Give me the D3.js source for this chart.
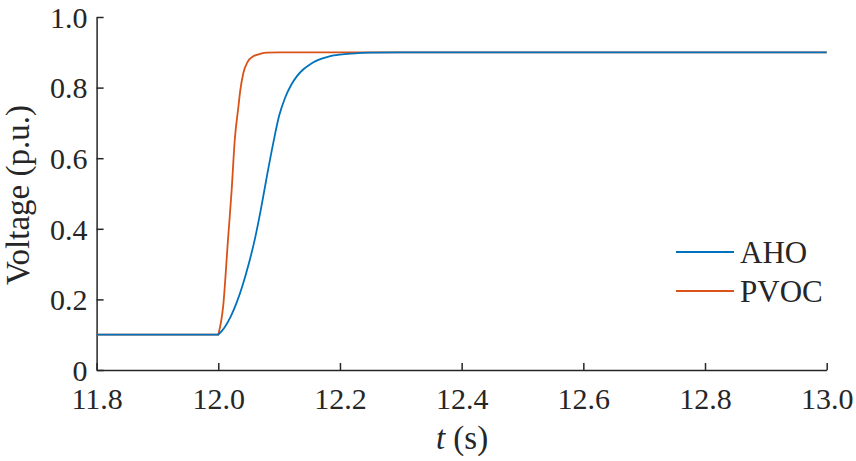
<!DOCTYPE html>
<html>
<head>
<meta charset="utf-8">
<script src="https://cdn.jsdelivr.net/npm/d3@7"></script>
<style>
  html, body { margin: 0; padding: 0; background: #fff; }
  svg { display: block; }
  text { font-family: "Liberation Serif", "Times New Roman", Times, serif; fill: #262626; }
</style>
</head>
<body>
<svg id="chart" width="856" height="461"></svg>
<script>
// ---- data ----
const xTicks = [11.8, 12.0, 12.2, 12.4, 12.6, 12.8, 13.0];
const xTickLabels = ["11.8", "12.0", "12.2", "12.4", "12.6", "12.8", "13.0"];
const yTicks = [0, 0.2, 0.4, 0.6, 0.8, 1.0];
const yTickLabels = ["0", "0.2", "0.4", "0.6", "0.8", "1.0"];
const seriesNames = ["AHO", "PVOC"];

const ahoT = [11.8, 12.0, 12.01, 12.02, 12.03, 12.04, 12.05, 12.06, 12.07, 12.08, 12.09, 12.10, 12.11, 12.12, 12.13, 12.14, 12.15, 12.16, 12.17, 12.18, 12.19, 12.2, 12.22, 12.25, 12.3, 13.0];
const ahoV = [0.1, 0.1, 0.12, 0.15, 0.19, 0.24, 0.30, 0.37, 0.455, 0.55, 0.64, 0.72, 0.772, 0.808, 0.834, 0.852, 0.865, 0.875, 0.882, 0.887, 0.891, 0.8935, 0.8965, 0.899, 0.9, 0.9];

const pvocT = [11.8, 12.0, 12.008, 12.016, 12.022, 12.027, 12.033, 12.036, 12.041, 12.048, 12.057, 12.07, 12.08, 12.1, 12.2, 13.0];
const pvocV = [0.1, 0.1, 0.18, 0.37, 0.51, 0.65, 0.745, 0.79, 0.84, 0.872, 0.888, 0.896, 0.899, 0.9, 0.9, 0.9];

const stepTime = 12.0;

// ---- layout ----
const svg = d3.select("#chart");
const L = 96.6, R = 826.7, T = 17, B = 370;
const colors = { AHO: "#0072BD", PVOC: "#D95319" };
const axisColor = "#262626";
const fsTick = 30, fsLabel = 33, fsLegend = 31;

const x = d3.scaleLinear().domain([11.8, 13.0]).range([L, R]);
const y = d3.scaleLinear().domain([0, 1.0]).range([B, T]);

// x axis
const xAxis = d3.axisBottom(x).tickValues(xTicks).tickSizeInner(-7).tickSizeOuter(0)
  .tickFormat((d, i) => xTickLabels[i]);
const gx = svg.append("g").attr("transform", `translate(0,${B})`).call(xAxis);
gx.attr("font-family", null);
gx.select(".domain").attr("stroke", axisColor).attr("stroke-width", 1.5);
gx.selectAll(".tick line").attr("stroke", axisColor).attr("stroke-width", 1.5);
gx.selectAll(".tick text").attr("font-size", fsTick).attr("fill", axisColor)
  .attr("dy", null).attr("y", 39);

// y axis
const yAxis = d3.axisLeft(y).tickValues(yTicks).tickSizeInner(-7).tickSizeOuter(0)
  .tickFormat((d, i) => yTickLabels[i]);
const gy = svg.append("g").attr("transform", `translate(${L},0)`).call(yAxis);
gy.attr("font-family", null);
gy.select(".domain").attr("stroke", axisColor).attr("stroke-width", 1.5);
gy.selectAll(".tick line").attr("stroke", axisColor).attr("stroke-width", 1.5);
gy.selectAll(".tick text").attr("font-size", fsTick).attr("fill", axisColor)
  .attr("x", -9).attr("dy", "0.34em");

// lines: flat part linear, transient smooth
function pathFor(ts, vs) {
  const pts = ts.map((t, i) => [t, vs[i]]);
  const flat = pts.filter(p => p[0] <= stepTime);
  const rise = pts.filter(p => p[0] >= stepTime);
  const lin = d3.line().x(d => x(d[0])).y(d => y(d[1])).curve(d3.curveLinear);
  const mono = d3.line().x(d => x(d[0])).y(d => y(d[1])).curve(d3.curveMonotoneX);
  return lin(flat) + mono(rise).replace(/^M/, "L");
}

svg.append("path").attr("d", pathFor(pvocT, pvocV))
  .attr("fill", "none").attr("stroke", colors.PVOC).attr("stroke-width", 1.8);
svg.append("path").attr("d", pathFor(ahoT, ahoV))
  .attr("fill", "none").attr("stroke", colors.AHO).attr("stroke-width", 1.8);

// axis labels
svg.append("text").attr("transform", `translate(29,195) rotate(-90)`)
  .attr("text-anchor", "middle").attr("font-size", fsLabel).text("Voltage (p.u.)");

const xl = svg.append("text").attr("x", 462).attr("y", 449)
  .attr("text-anchor", "middle").attr("font-size", fsLabel);
xl.append("tspan").attr("font-style", "italic").text("t");
xl.append("tspan").text(" (s)");

// legend
const legend = svg.append("g");
seriesNames.forEach((name, i) => {
  const yy = 252 + i * 39;
  legend.append("line").attr("x1", 676).attr("x2", 734).attr("y1", yy).attr("y2", yy)
    .attr("stroke", colors[name]).attr("stroke-width", 1.8);
  legend.append("text").attr("x", 740).attr("y", yy).attr("dy", "0.34em")
    .attr("font-size", fsLegend).text(name);
});
</script>
</body>
</html>
